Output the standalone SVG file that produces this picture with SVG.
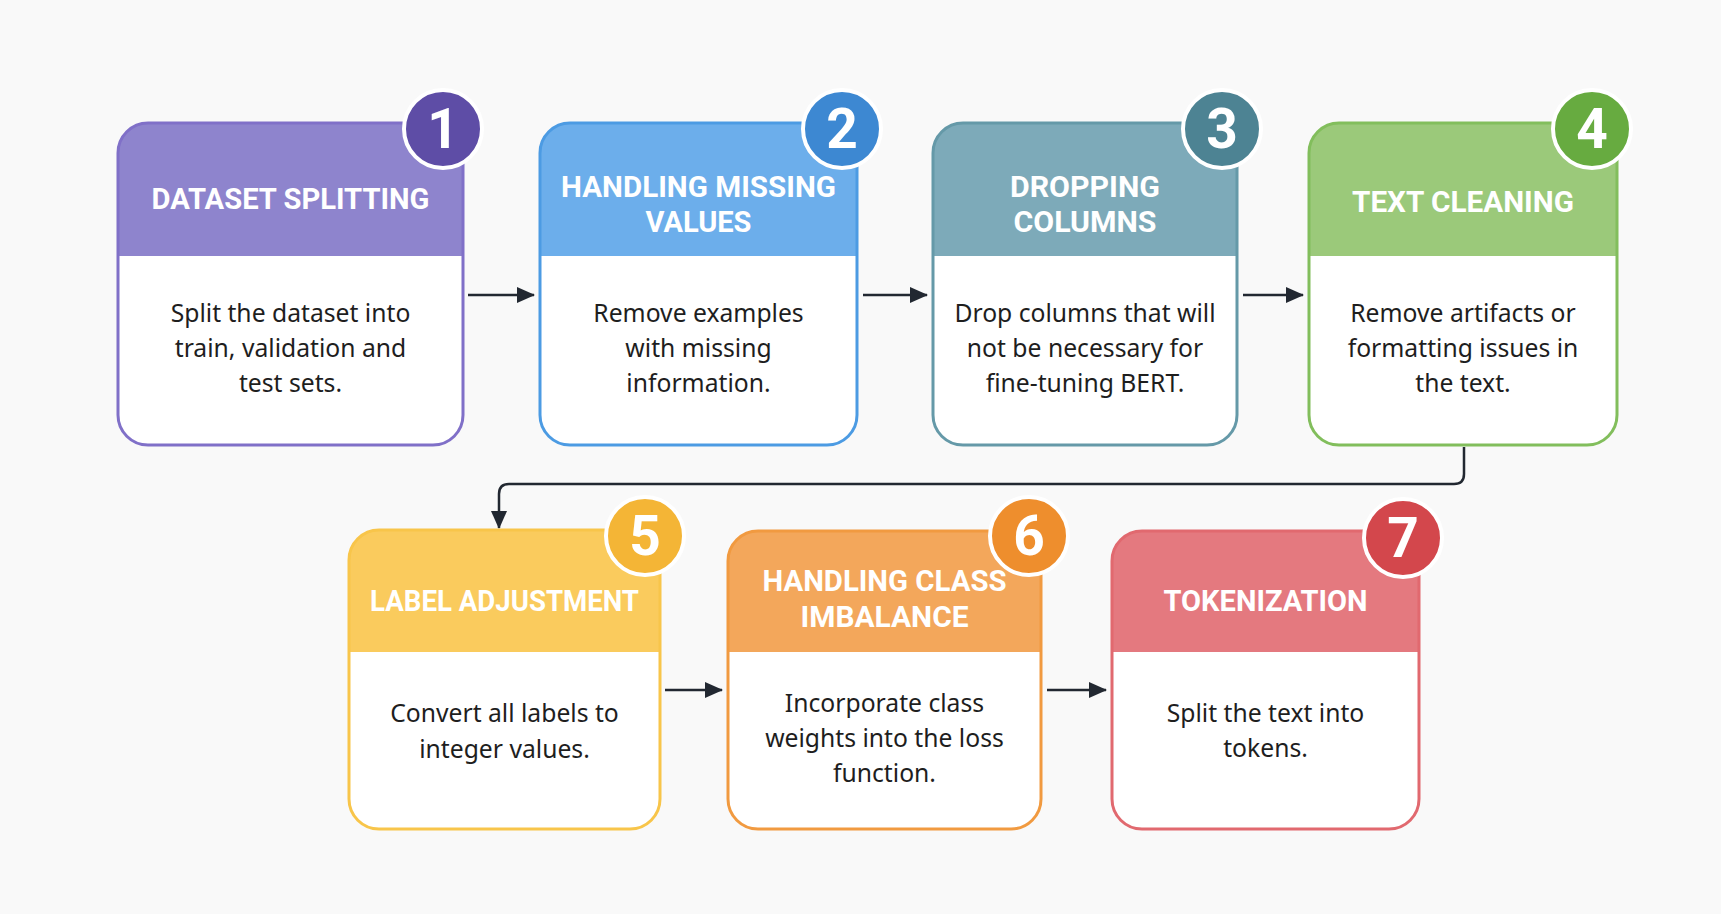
<svg xmlns="http://www.w3.org/2000/svg" width="1721" height="914" viewBox="0 0 1721 914">
<defs>
<style>
.bg{fill:#F9F9F9}
.body{fill:#FFFFFF}
.title{font-family:Roboto,"Liberation Sans",sans-serif;font-weight:700;font-size:29.5px;fill:#FFFFFF;text-anchor:middle}
.desc{font-family:"Noto Sans","Liberation Sans",sans-serif;font-size:24.7px;fill:#1E1E1E;text-anchor:middle}
.num{font-family:Roboto,"Liberation Sans",sans-serif;font-weight:700;font-size:55px;fill:#FFFFFF;text-anchor:middle}
.badge{stroke:#FFFFFF;stroke-width:4}
.edge{fill:none;stroke:#222831;stroke-width:2.5}
</style>
<marker id="arr" viewBox="0 0 18 18" refX="17" refY="9" markerWidth="18" markerHeight="18" markerUnits="userSpaceOnUse" orient="auto">
<path d="M0 1 L18 9 L0 17 Z" fill="#222831"/>
</marker>
</defs>
<rect class="bg" x="0" y="0" width="1721" height="914"/>

<g id="connectors">
<path class="edge" d="M468 295 H534" marker-end="url(#arr)"/>
<path class="edge" d="M863 295 H927" marker-end="url(#arr)"/>
<path class="edge" d="M1243 295 H1303" marker-end="url(#arr)"/>
<path class="edge" d="M1464 447 V474 Q1464 484 1454 484 H509 Q499 484 499 494 V528" marker-end="url(#arr)"/>
<path class="edge" d="M665 690 H722" marker-end="url(#arr)"/>
<path class="edge" d="M1047 690 H1106" marker-end="url(#arr)"/>
</g>

<g id="node1">
<rect class="body" x="118" y="123" width="345" height="322" rx="30"/>
<path d="M118 256 V153 A30 30 0 0 1 148 123 H433 A30 30 0 0 1 463 153 V256 Z" fill="#8E84CD"/>
<rect x="118" y="123" width="345" height="322" rx="30" fill="none" stroke="#8070C8" stroke-width="3"/>
<text class="title" x="290.5" y="209" textLength="278" lengthAdjust="spacingAndGlyphs">DATASET SPLITTING</text>
<text class="desc" x="290.5" y="322">Split the dataset into</text>
<text class="desc" x="290.5" y="357">train, validation and</text>
<text class="desc" x="290.5" y="392">test sets.</text>
<circle class="badge" cx="443" cy="129" r="39" fill="#5E4DA6"/>
<text class="num" x="443" y="148">1</text>
</g>

<g id="node2">
<rect class="body" x="540" y="123" width="317" height="322" rx="30"/>
<path d="M540 256 V153 A30 30 0 0 1 570 123 H827 A30 30 0 0 1 857 153 V256 Z" fill="#6CAEEB"/>
<rect x="540" y="123" width="317" height="322" rx="30" fill="none" stroke="#4C9BE3" stroke-width="3"/>
<text class="title" x="698.5" y="197" textLength="275" lengthAdjust="spacingAndGlyphs">HANDLING MISSING</text>
<text class="title" x="698.5" y="232" textLength="106" lengthAdjust="spacingAndGlyphs">VALUES</text>
<text class="desc" x="698.5" y="322">Remove examples</text>
<text class="desc" x="698.5" y="357">with missing</text>
<text class="desc" x="698.5" y="392">information.</text>
<circle class="badge" cx="842" cy="129" r="39" fill="#3D88D2"/>
<text class="num" x="842" y="148">2</text>
</g>

<g id="node3">
<rect class="body" x="933" y="123" width="304" height="322" rx="30"/>
<path d="M933 256 V153 A30 30 0 0 1 963 123 H1207 A30 30 0 0 1 1237 153 V256 Z" fill="#7DAAB9"/>
<rect x="933" y="123" width="304" height="322" rx="30" fill="none" stroke="#6599A8" stroke-width="3"/>
<text class="title" x="1085" y="197" textLength="150" lengthAdjust="spacingAndGlyphs">DROPPING</text>
<text class="title" x="1085" y="232" textLength="143" lengthAdjust="spacingAndGlyphs">COLUMNS</text>
<text class="desc" x="1085" y="322">Drop columns that will</text>
<text class="desc" x="1085" y="357">not be necessary for</text>
<text class="desc" x="1085" y="392">fine-tuning BERT.</text>
<circle class="badge" cx="1222" cy="129" r="39" fill="#4D8393"/>
<text class="num" x="1222" y="148">3</text>
</g>

<g id="node4">
<rect class="body" x="1309" y="123" width="308" height="322" rx="30"/>
<path d="M1309 256 V153 A30 30 0 0 1 1339 123 H1587 A30 30 0 0 1 1617 153 V256 Z" fill="#9BC97A"/>
<rect x="1309" y="123" width="308" height="322" rx="30" fill="none" stroke="#82BE5C" stroke-width="3"/>
<text class="title" x="1463" y="212" textLength="222" lengthAdjust="spacingAndGlyphs">TEXT CLEANING</text>
<text class="desc" x="1463" y="322">Remove artifacts or</text>
<text class="desc" x="1463" y="357">formatting issues in</text>
<text class="desc" x="1463" y="392">the text.</text>
<circle class="badge" cx="1592" cy="129" r="39" fill="#67AB40"/>
<text class="num" x="1592" y="148">4</text>
</g>

<g id="node5">
<rect class="body" x="349" y="530" width="311" height="299" rx="30"/>
<path d="M349 652 V560 A30 30 0 0 1 379 530 H630 A30 30 0 0 1 660 560 V652 Z" fill="#FACB5D"/>
<rect x="349" y="530" width="311" height="299" rx="30" fill="none" stroke="#F8C54A" stroke-width="3"/>
<text class="title" x="504.5" y="611" textLength="269" lengthAdjust="spacingAndGlyphs">LABEL ADJUSTMENT</text>
<text class="desc" x="504.5" y="722">Convert all labels to</text>
<text class="desc" x="504.5" y="758">integer values.</text>
<circle class="badge" cx="645" cy="536" r="39" fill="#F4B536"/>
<text class="num" x="645" y="555">5</text>
</g>

<g id="node6">
<rect class="body" x="728" y="531" width="313" height="298" rx="30"/>
<path d="M728 652 V561 A30 30 0 0 1 758 531 H1011 A30 30 0 0 1 1041 561 V652 Z" fill="#F3A75B"/>
<rect x="728" y="531" width="313" height="298" rx="30" fill="none" stroke="#F19A40" stroke-width="3"/>
<text class="title" x="884.5" y="591" textLength="244" lengthAdjust="spacingAndGlyphs">HANDLING CLASS</text>
<text class="title" x="884.5" y="627" textLength="168" lengthAdjust="spacingAndGlyphs">IMBALANCE</text>
<text class="desc" x="884.5" y="712">Incorporate class</text>
<text class="desc" x="884.5" y="747">weights into the loss</text>
<text class="desc" x="884.5" y="782">function.</text>
<circle class="badge" cx="1029" cy="536" r="39" fill="#EE8E2D"/>
<text class="num" x="1029" y="555">6</text>
</g>

<g id="node7">
<rect class="body" x="1112" y="531" width="307" height="298" rx="30"/>
<path d="M1112 652 V561 A30 30 0 0 1 1142 531 H1389 A30 30 0 0 1 1419 561 V652 Z" fill="#E4797F"/>
<rect x="1112" y="531" width="307" height="298" rx="30" fill="none" stroke="#E1696F" stroke-width="3"/>
<text class="title" x="1265.5" y="611" textLength="204" lengthAdjust="spacingAndGlyphs">TOKENIZATION</text>
<text class="desc" x="1265.5" y="722">Split the text into</text>
<text class="desc" x="1265.5" y="757">tokens.</text>
<circle class="badge" cx="1403" cy="538" r="39" fill="#D3474C"/>
<text class="num" x="1403" y="557">7</text>
</g>
</svg>
